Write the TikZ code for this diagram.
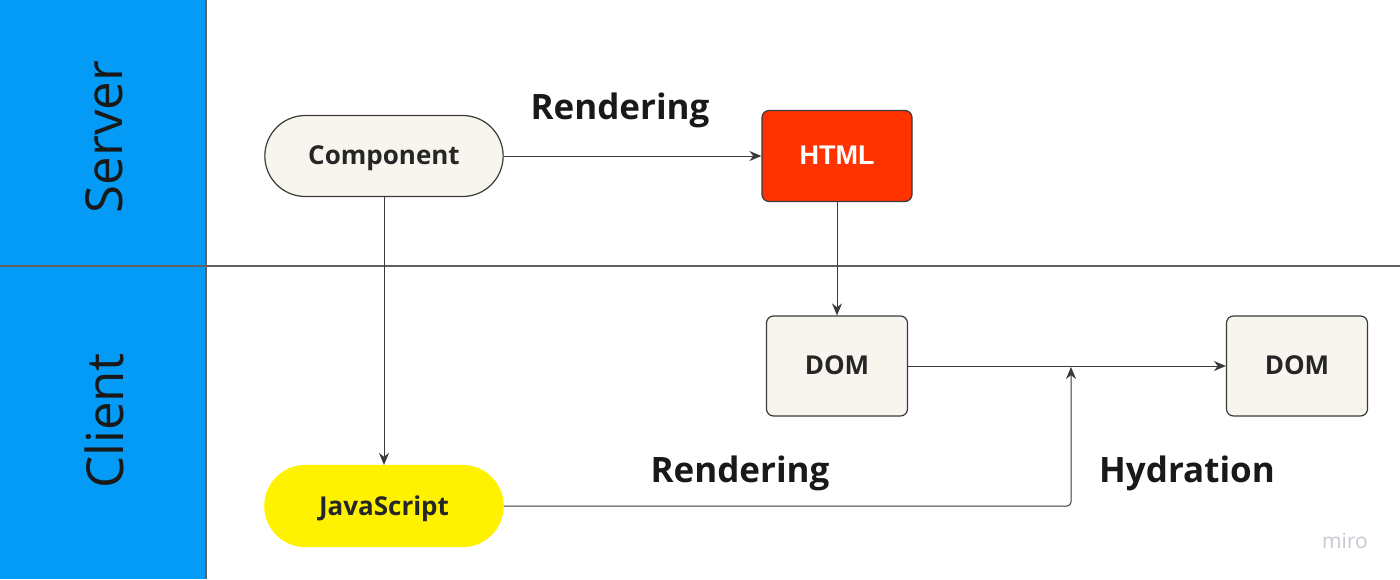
\documentclass[tikz,border=0pt]{standalone}
\usepackage{fontspec}
\setmainfont{Open Sans}
\newfontfamily\arialfont{Liberation Sans}
\usetikzlibrary{arrows.meta,shapes.misc}
\definecolor{laneblue}{HTML}{039BF5}
\definecolor{cream}{HTML}{F8F5EF}
\definecolor{htmlred}{HTML}{FF3300}
\definecolor{jsyellow}{HTML}{FFF200}
\definecolor{edge}{HTML}{3A3A3A}
\definecolor{txt}{HTML}{262626}
\definecolor{mirogray}{HTML}{C5C9D3}
\begin{document}
\begin{tikzpicture}[x=1pt,y=-1pt,
  stadium/.style={rounded rectangle, draw=edge, line width=1.2pt, minimum width=245pt, minimum height=81pt, text depth=1pt, font=\bfseries\fontsize{26}{30}\selectfont, text=txt},
  boxnode/.style={rectangle, rounded corners=7pt, draw=edge, line width=1.2pt, text depth=1pt, font=\bfseries\fontsize{26}{30}\selectfont, text=txt},
  conn/.style={draw=edge, line width=1pt, -{Stealth[length=12pt,width=10pt]}},
  lbl/.style={font=\bfseries\fontsize{35}{40}\selectfont, text=black!90},
  lane/.style={font=\fontsize{51}{56}\selectfont, text=black!90, rotate=90}]
\useasboundingbox (0,0) rectangle (1400,579);
\fill[white] (0,0) rectangle (1400,579);
\fill[laneblue] (0,0) rectangle (206,579);
\draw[edge!80, line width=1.5pt] (206,0) -- (206,579);
\draw[edge!80, line width=1.5pt] (0,266) -- (1400,266);
\node[lane] (server) at (104,137) {Server};
\node[lane] (client) at (104,421) {Client};
\node[stadium, fill=cream] (comp) at (384,156) {Component};
\node[boxnode, fill=htmlred, draw=edge, minimum width=150pt, minimum height=91pt, text=white, font=\arialfont\bfseries\fontsize{27}{30}\selectfont] (html) at (837,156) {HTML};
\node[boxnode, fill=cream, minimum width=141pt, minimum height=100pt] (dom1) at (837,366) {DOM};
\node[boxnode, fill=cream, minimum width=141pt, minimum height=100pt] (dom2) at (1297,366) {DOM};
\node[stadium, fill=jsyellow, draw=jsyellow] (js) at (384,506) {JavaScript};
\coordinate (hyd) at (1071,367);
\draw[conn] (comp.east) -- (html.west);
\draw[conn] (comp.south) -- (js.north);
\draw[conn] (html.south) -- (dom1.north);
\draw[conn] (dom1.east) -- (dom2.west);
\draw[conn, rounded corners=4pt] (js.east) -- (js.east -| hyd) -- (hyd);
\node[lbl] (r1) at (620,110) {Rendering};
\node[lbl] (r2) at (740,473) {Rendering};
\node[lbl] (h) at (1187,473) {Hydration};
\node[font=\fontsize{21}{24}\selectfont, text=mirogray] (miro) at (1345,541) {miro};
\end{tikzpicture}
\end{document}
